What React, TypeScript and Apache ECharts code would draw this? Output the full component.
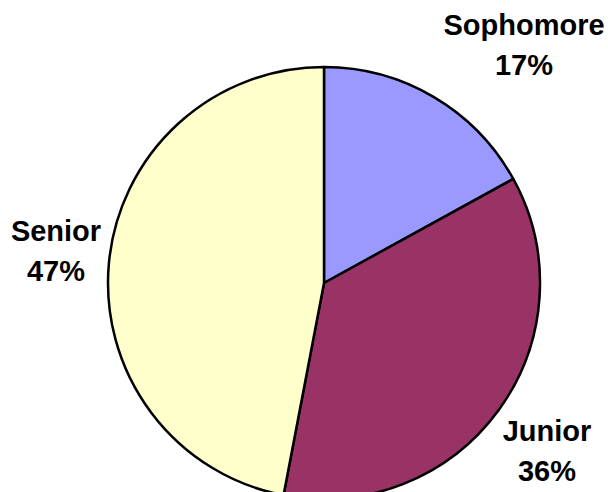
import React, { useEffect, useRef } from "react";
import * as echarts from "echarts";

const categories = ["Sophomore", "Junior", "Senior"];
const values = [17, 36, 47];
const colors = ["#9999FF", "#993366", "#FFFFCC"];
const labelCenters: [number, number][] = [
  [524, 45],
  [547, 451],
  [56, 251],
];

export default function App() {
  const ref = useRef<HTMLDivElement>(null);
  useEffect(() => {
    if (!ref.current) return;
    const chart = echarts.init(ref.current, null, { renderer: "svg" });
    chart.setOption({
      animation: false,
      backgroundColor: "#ffffff",
      series: [
        {
          type: "pie",
          center: [324, 283],
          radius: 216,
          startAngle: 90,
          clockwise: true,
          avoidLabelOverlap: false,
          data: categories.map((name, i) => ({
            name,
            value: values[i],
            itemStyle: { color: colors[i] },
          })),
          itemStyle: { borderColor: "#000000", borderWidth: 2.5 },
          label: {
            show: true,
            position: "outside",
            formatter: "{b}\n{d}%",
            fontFamily: "Liberation Sans, Arial, sans-serif",
            fontWeight: "bold",
            fontSize: 29,
            lineHeight: 40,
            color: "#000000",
            align: "center",
          },
          labelLine: { show: false },
          labelLayout: (params: any) => {
            const c = labelCenters[params.dataIndex];
            return { x: c[0], y: c[1], align: "center", verticalAlign: "middle" };
          },
          emphasis: { disabled: true },
        },
      ],
    });
    return () => chart.dispose();
  }, []);
  return (
    <div
      ref={ref}
      style={{ position: "fixed", left: 0, top: 0, width: 608, height: 492 }}
    />
  );
}
